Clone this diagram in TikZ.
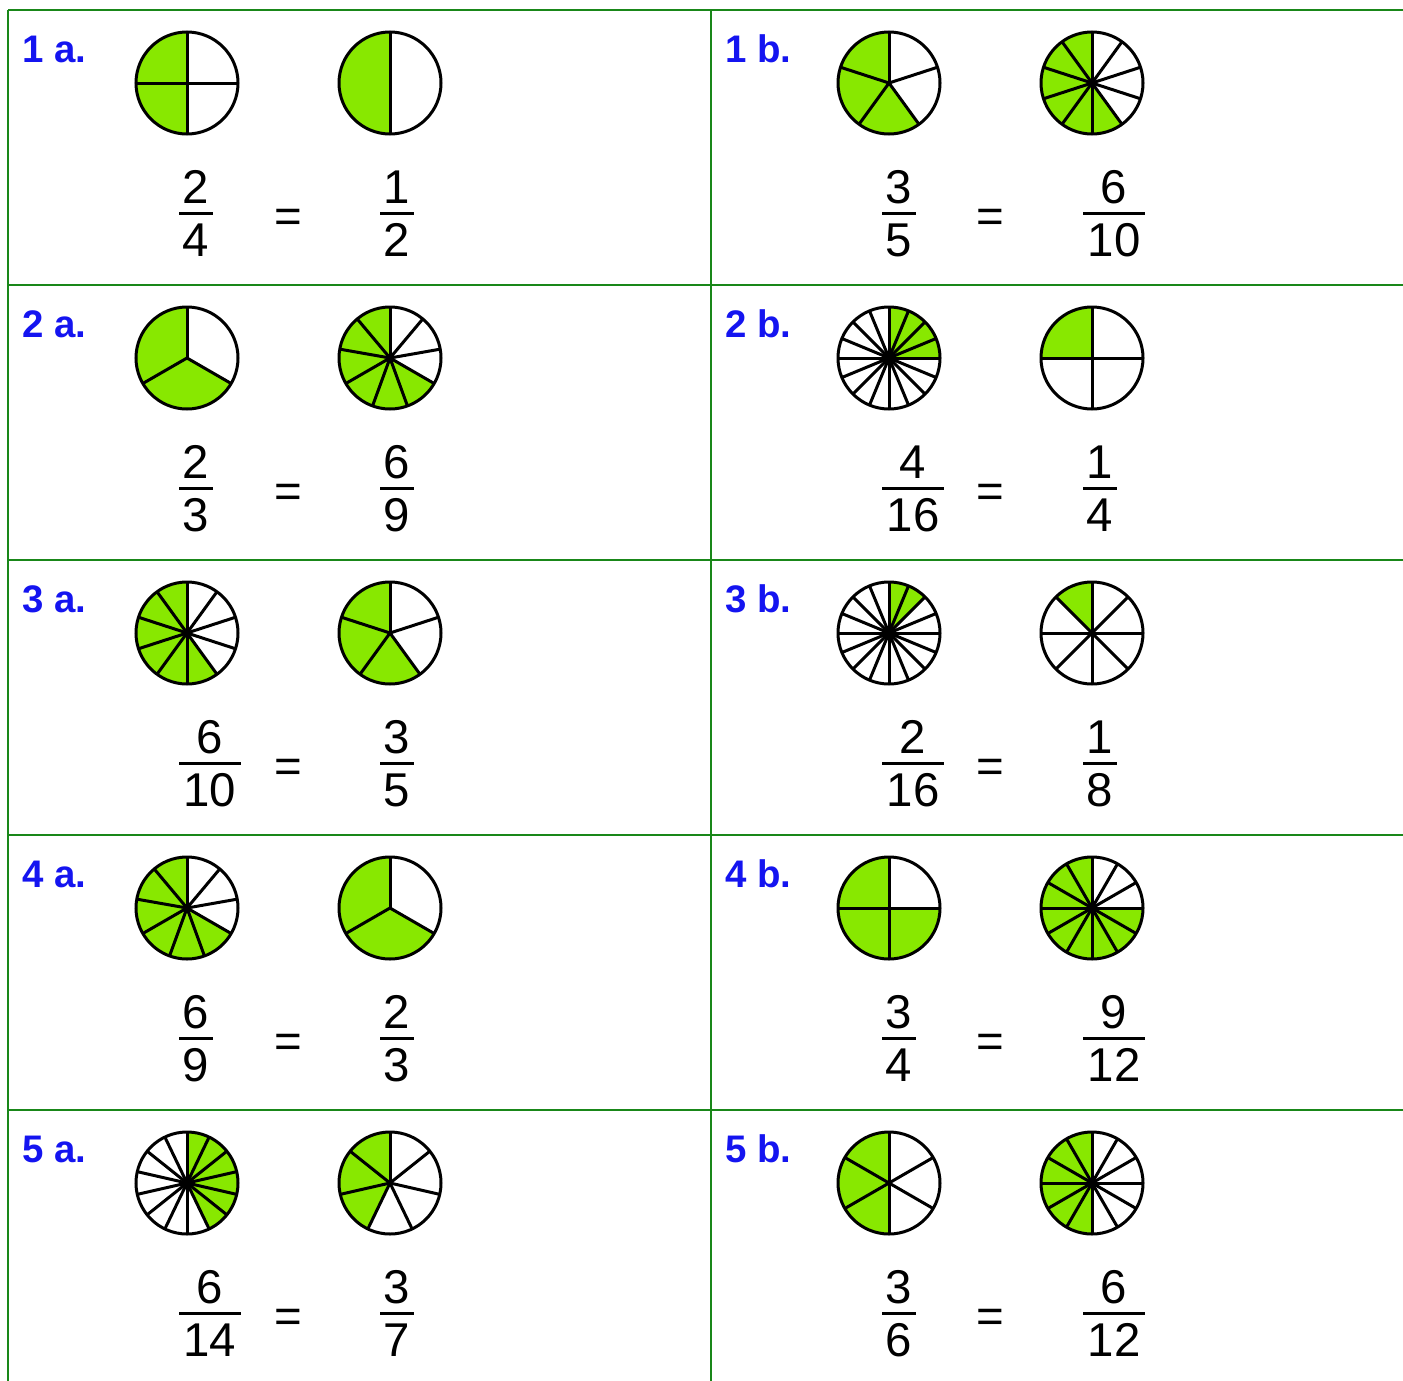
\documentclass[tikz,border=0pt]{standalone}
\usepackage{fontspec}
\setmainfont{Liberation Sans}
\usepackage{xcolor}
\definecolor{gridgreen}{RGB}{25,135,25}
\definecolor{piegreen}{RGB}{136,232,0}
\definecolor{labelblue}{RGB}{20,20,240}
\usetikzlibrary{calc}

\newcommand{\pieR}{25.5pt}
% center x, center y, parts, shaded parts, direction (1 ccw, -1 cw)
\newcommand{\drawpie}[5]{%
  \begin{scope}[shift={(#1,#2)}]
    \fill[piegreen] (0,0) -- (90:\pieR) arc[start angle=90, delta angle={#5*360*#4/#3}, radius=\pieR] -- cycle;
    \foreach \i in {1,...,#3} \draw[pieline] (0,0) -- ({90+360*\i/#3}:\pieR);
    \draw[pieline] (0,0) circle[radius=\pieR];
  \end{scope}}
% name, bar start x, bar y, numerator, denominator, bar width
\newcommand{\fracpair}[6]{%
  \coordinate (#1-bar) at (#2,#3);
  \draw[fracbar] (#1-bar) -- ++(#6,0);
  \node[fractext] (#1-num) at ($(#1-bar)+(#6/2,10)$) {#4};
  \node[fractext] (#1-den) at ($(#1-bar)+(#6/2,-43)$) {#5};}

\begin{document}
\begin{tikzpicture}[x=0.5pt, y=0.5pt,
  gridline/.style={draw=gridgreen, line width=1pt},
  pieline/.style={draw=black, line width=1.5pt},
  fracbar/.style={draw=black, line width=1.5pt},
  fractext/.style={font=\fontsize{23.7}{28}\selectfont, inner sep=0pt, anchor=base},
  celllabel/.style={font=\fontsize{19.2}{23}\selectfont\bfseries, text=labelblue, inner sep=0pt, anchor=base west}]
  \useasboundingbox (0,0) rectangle (1403,-1381);

  %--- Grid ---
  \foreach \y in {10,285,560,835,1110} \draw[gridline] (8,-\y) -- (1403,-\y);
  \draw[gridline] (8,-10) -- (8,-1381);
  \draw[gridline] (711,-10) -- (711,-1381);

  %--- Row 1 ---
  \node[celllabel] (lab1a) at (22,-62) {1 a.};
  \drawpie{187}{-83}{4}{2}{1}
  \drawpie{390}{-83}{2}{1}{1}
  \fracpair{f1a-l}{179}{-213}{2}{4}{34}
  \node[fractext] (eq1a) at (288,-232) {=};
  \fracpair{f1a-r}{380}{-213}{1}{2}{34}

  \node[celllabel] (lab1b) at (725,-62) {1 b.};
  \drawpie{889}{-83}{5}{3}{1}
  \drawpie{1092}{-83}{10}{6}{1}
  \fracpair{f1b-l}{882}{-213}{3}{5}{34}
  \node[fractext] (eq1b) at (990,-232) {=};
  \fracpair{f1b-r}{1083}{-213}{6}{10}{62}

  %--- Row 2 ---
  \node[celllabel] (lab2a) at (22,-337) {2 a.};
  \drawpie{187}{-358}{3}{2}{1}
  \drawpie{390}{-358}{9}{6}{1}
  \fracpair{f2a-l}{179}{-488}{2}{3}{34}
  \node[fractext] (eq2a) at (288,-507) {=};
  \fracpair{f2a-r}{380}{-488}{6}{9}{34}

  \node[celllabel] (lab2b) at (725,-337) {2 b.};
  \drawpie{889}{-358}{16}{4}{-1}
  \drawpie{1092}{-358}{4}{1}{1}
  \fracpair{f2b-l}{882}{-488}{4}{16}{62}
  \node[fractext] (eq2b) at (990,-507) {=};
  \fracpair{f2b-r}{1083}{-488}{1}{4}{34}

  %--- Row 3 ---
  \node[celllabel] (lab3a) at (22,-612) {3 a.};
  \drawpie{187}{-633}{10}{6}{1}
  \drawpie{390}{-633}{5}{3}{1}
  \fracpair{f3a-l}{179}{-763}{6}{10}{62}
  \node[fractext] (eq3a) at (288,-782) {=};
  \fracpair{f3a-r}{380}{-763}{3}{5}{34}

  \node[celllabel] (lab3b) at (725,-612) {3 b.};
  \drawpie{889}{-633}{16}{2}{-1}
  \drawpie{1092}{-633}{8}{1}{1}
  \fracpair{f3b-l}{882}{-763}{2}{16}{62}
  \node[fractext] (eq3b) at (990,-782) {=};
  \fracpair{f3b-r}{1083}{-763}{1}{8}{34}

  %--- Row 4 ---
  \node[celllabel] (lab4a) at (22,-887) {4 a.};
  \drawpie{187}{-908}{9}{6}{1}
  \drawpie{390}{-908}{3}{2}{1}
  \fracpair{f4a-l}{179}{-1038}{6}{9}{34}
  \node[fractext] (eq4a) at (288,-1057) {=};
  \fracpair{f4a-r}{380}{-1038}{2}{3}{34}

  \node[celllabel] (lab4b) at (725,-887) {4 b.};
  \drawpie{889}{-908}{4}{3}{1}
  \drawpie{1092}{-908}{12}{9}{1}
  \fracpair{f4b-l}{882}{-1038}{3}{4}{34}
  \node[fractext] (eq4b) at (990,-1057) {=};
  \fracpair{f4b-r}{1083}{-1038}{9}{12}{62}

  %--- Row 5 ---
  \node[celllabel] (lab5a) at (22,-1162) {5 a.};
  \drawpie{187}{-1183}{14}{6}{-1}
  \drawpie{390}{-1183}{7}{3}{1}
  \fracpair{f5a-l}{179}{-1313}{6}{14}{62}
  \node[fractext] (eq5a) at (288,-1332) {=};
  \fracpair{f5a-r}{380}{-1313}{3}{7}{34}

  \node[celllabel] (lab5b) at (725,-1162) {5 b.};
  \drawpie{889}{-1183}{6}{3}{1}
  \drawpie{1092}{-1183}{12}{6}{1}
  \fracpair{f5b-l}{882}{-1313}{3}{6}{34}
  \node[fractext] (eq5b) at (990,-1332) {=};
  \fracpair{f5b-r}{1083}{-1313}{6}{12}{62}
\end{tikzpicture}
\end{document}
